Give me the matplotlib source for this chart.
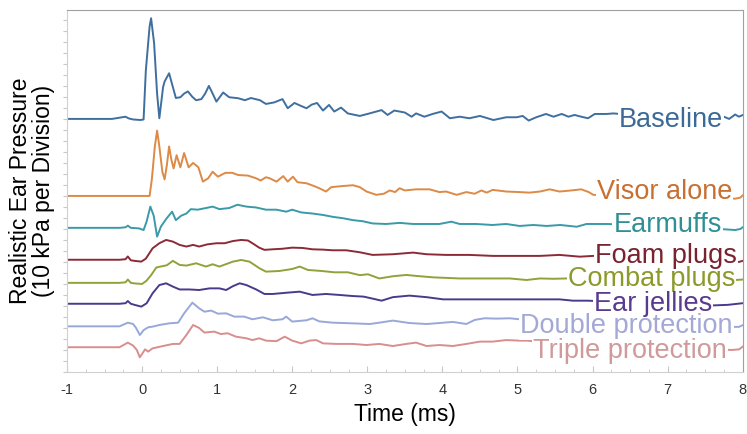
import numpy as np
import matplotlib
matplotlib.use("Agg")
import matplotlib.pyplot as plt
from matplotlib.patches import Rectangle

plt.rcParams['font.family'] = ['Liberation Sans', 'DejaVu Sans']
plt.rcParams['axes.unicode_minus'] = False

# time (ms) and ear pressure (divisions of 10 kPa, traces stacked as in the figure)
baseline_t = [-1.0, -0.4, -0.22, -0.18, -0.12, -0.02, 0.02, 0.05, 0.10, 0.12, 0.16, 0.20, 0.23,
              0.28, 0.30, 0.36, 0.41, 0.45, 0.51, 0.56, 0.61, 0.67, 0.72, 0.79, 0.84, 0.89, 0.94,
              0.99, 1.08, 1.16, 1.28, 1.37, 1.45, 1.57, 1.65, 1.76, 1.87, 1.94, 2.03, 2.11, 2.19,
              2.26, 2.33, 2.41, 2.49, 2.56, 2.65, 2.74, 2.90, 3.03, 3.19, 3.27, 3.36, 3.50, 3.59,
              3.65, 3.76, 3.87, 3.99, 4.10, 4.23, 4.36, 4.50, 4.68, 4.85, 4.99, 5.07, 5.15, 5.25,
              5.38, 5.48, 5.59, 5.68, 5.76, 5.85, 5.94, 6.03, 6.19, 6.28, 6.6, 7.0, 7.4, 7.75,
              7.82, 7.9, 7.95, 8.0]
baseline_v = [23.0, 23.0, 23.2, 23.05, 22.95, 22.9, 22.95, 27.4, 31.4, 32.15, 29.9, 25.3, 23.06,
              25.9, 26.4, 27.15, 25.9, 24.9, 24.97, 25.3, 25.5, 25.0, 24.7, 24.8, 25.3, 26.0, 25.3,
              24.57, 25.4, 24.97, 24.88, 24.7, 24.9, 24.7, 24.36, 24.5, 24.8, 23.97, 24.45, 24.2,
              23.97, 24.3, 24.45, 23.76, 24.27, 23.67, 24.03, 23.5, 23.27, 23.5, 23.8, 23.36,
              23.76, 23.58, 23.2, 23.5, 23.2, 23.45, 23.67, 23.06, 23.2, 23.06, 23.27, 22.9,
              23.15, 23.15, 23.27, 22.85, 23.15, 23.45, 23.2, 23.45, 23.2, 23.36, 23.2, 23.06,
              23.45, 23.45, 23.5, 23.3, 23.2, 23.3, 23.2, 23.0, 23.4, 23.2, 23.35]

visor_t = [-1.0, 0.10, 0.13, 0.17, 0.20, 0.23, 0.27, 0.30, 0.33, 0.36, 0.39, 0.42, 0.46, 0.51,
           0.56, 0.62, 0.68, 0.75, 0.81, 0.88, 0.94, 1.01, 1.11, 1.20, 1.28, 1.41, 1.52, 1.58,
           1.65, 1.70, 1.79, 1.88, 1.94, 2.01, 2.07, 2.19, 2.29, 2.36, 2.45, 2.52, 2.67, 2.81,
           2.90, 2.99, 3.12, 3.22, 3.30, 3.37, 3.43, 3.50, 3.65, 3.83, 3.96, 4.05, 4.19, 4.32,
           4.43, 4.52, 4.59, 4.67, 4.85, 5.03, 5.16, 5.30, 5.43, 5.56, 5.72, 5.85, 5.95, 6.01,
           6.5, 7.0, 7.5, 7.8, 7.9, 7.97, 8.0]
visor_v = [16.0, 16.0, 17.5, 20.5, 21.94, 20.5, 18.2, 17.5, 18.8, 20.5, 19.3, 18.5, 19.7, 18.6,
           19.9, 18.6, 19.0, 18.6, 17.3, 17.6, 18.2, 17.75, 18.1, 18.1, 17.9, 17.85, 17.6, 17.4,
           17.7, 17.6, 17.3, 17.8, 17.3, 17.75, 17.25, 17.15, 16.9, 16.7, 16.4, 16.8, 16.9,
           16.97, 16.8, 16.4, 16.1, 16.2, 16.5, 16.35, 16.7, 16.5, 16.6, 16.6, 16.35, 16.4,
           16.1, 16.35, 16.2, 16.5, 16.3, 16.55, 16.4, 16.35, 16.3, 16.4, 16.6, 16.4, 16.5,
           16.6, 16.35, 16.1, 16.0, 16.0, 15.9, 15.8, 15.75, 15.85, 16.05]

earmuffs_t = [-1.0, -0.3, -0.22, -0.19, -0.15, -0.04, 0.02, 0.06, 0.11, 0.155, 0.20, 0.25, 0.32,
              0.40, 0.45, 0.52, 0.59, 0.65, 0.74, 0.85, 0.94, 1.03, 1.16, 1.27, 1.39, 1.52,
              1.65, 1.79, 1.92, 2.0, 2.12, 2.27, 2.41, 2.54, 2.68, 2.81, 2.94, 3.07, 3.25, 3.43,
              3.61, 3.79, 3.96, 4.12, 4.23, 4.45, 4.67, 4.85, 5.03, 5.21, 5.39, 5.57, 5.79, 5.92,
              6.10, 6.21, 6.6, 7.0, 7.4, 7.8, 7.9, 7.97, 8.0]
earmuffs_v = [13.1, 13.1, 13.15, 13.3, 13.1, 13.05, 12.9, 13.66, 15.03, 14.2, 12.3, 13.2, 13.9,
              14.57, 13.8, 14.2, 14.4, 14.8, 14.75, 14.9, 15.03, 14.8, 14.9, 15.2, 15.03, 14.95,
              14.75, 14.75, 14.57, 14.75, 14.5, 14.4, 14.27, 14.1, 13.97, 13.8, 13.7, 13.5,
              13.45, 13.55, 13.45, 13.45, 13.45, 13.66, 13.45, 13.45, 13.36, 13.45, 13.27,
              13.36, 13.27, 13.36, 13.2, 13.45, 13.45, 13.45, 13.3, 13.2, 13.1, 12.95, 12.9,
              13.0, 13.15]

foam_t = [-1.0, -0.3, -0.22, -0.19, -0.15, -0.1, -0.01, 0.05, 0.14, 0.23, 0.32, 0.41, 0.50,
          0.59, 0.68, 0.76, 0.87, 0.99, 1.10, 1.21, 1.32, 1.41, 1.47, 1.56, 1.63, 1.74, 1.87,
          2.0, 2.14, 2.27, 2.41, 2.54, 2.72, 2.90, 3.07, 3.34, 3.61, 3.79, 4.05, 4.36, 4.67,
          4.99, 5.30, 5.56, 5.83, 6.01, 6.5, 7.0, 7.5, 7.85, 7.95, 8.0]
foam_v = [10.2, 10.2, 10.25, 10.5, 10.15, 10.1, 10.03, 10.3, 11.24, 11.7, 12.0, 11.85, 11.55,
          11.4, 11.55, 11.4, 11.6, 11.7, 11.7, 11.9, 12.0, 11.95, 11.7, 11.3, 11.1, 11.15,
          11.2, 11.3, 11.27, 11.15, 11.12, 11.06, 11.06, 10.88, 10.64, 10.7, 10.85, 10.7,
          10.64, 10.64, 10.55, 10.55, 10.55, 10.64, 10.48, 10.55, 10.4, 10.3, 10.2, 10.05,
          10.0, 10.1]

combat_t = [-1.0, -0.3, -0.22, -0.19, -0.15, -0.1, 0.0, 0.06, 0.12, 0.19, 0.26, 0.33, 0.41,
            0.50, 0.59, 0.72, 0.85, 0.94, 1.03, 1.21, 1.32, 1.43, 1.57, 1.65, 1.83, 2.0, 2.1,
            2.21, 2.39, 2.56, 2.74, 2.9, 3.01, 3.16, 3.34, 3.52, 3.65, 3.88, 4.23, 4.59, 4.9,
            5.12, 5.3, 5.48, 5.65, 6.2, 6.8, 7.4, 7.9, 8.0]
combat_v = [8.1, 8.1, 8.15, 8.4, 8.1, 8.05, 8.0, 8.3, 8.8, 9.5, 9.6, 9.7, 10.1, 9.73, 9.67,
            9.88, 9.58, 9.79, 9.58, 10.03, 10.18, 10.03, 9.4, 9.12, 9.18, 9.36, 9.58, 9.27,
            9.18, 9.06, 9.06, 8.8, 8.88, 8.5, 8.7, 8.82, 8.73, 8.6, 8.5, 8.5, 8.5, 8.36, 8.5,
            8.47, 8.5, 8.45, 8.4, 8.4, 8.36, 8.4]

jellies_t = [-1.0, -0.3, -0.22, -0.19, -0.15, -0.1, -0.01, 0.06, 0.14, 0.23, 0.32, 0.41, 0.50,
             0.63, 0.76, 0.90, 1.03, 1.12, 1.21, 1.30, 1.39, 1.52, 1.63, 1.74, 1.92, 2.10,
             2.27, 2.45, 2.63, 2.81, 2.95, 3.05, 3.19, 3.34, 3.56, 3.79, 4.01, 4.32, 4.67,
             4.99, 5.3, 5.56, 5.74, 5.94, 6.5, 7.0, 7.6, 7.8, 8.0]
jellies_v = [6.2, 6.2, 6.25, 6.45, 6.2, 6.1, 5.94, 6.24, 7.15, 7.9, 8.06, 7.76, 7.5, 7.5, 7.45,
             7.6, 7.6, 7.45, 7.8, 8.06, 7.9, 7.5, 7.09, 7.09, 7.2, 7.3, 7.0, 7.09, 7.0, 6.9,
             6.85, 6.7, 6.48, 6.8, 6.94, 6.8, 6.6, 6.6, 6.6, 6.6, 6.6, 6.6, 6.48, 6.48, 6.3,
             6.2, 6.05, 6.1, 6.25]

double_t = [-1.0, -0.3, -0.19, -0.12, -0.08, -0.03, 0.02, 0.08, 0.14, 0.23, 0.36, 0.48, 0.56,
            0.67, 0.76, 0.83, 0.92, 1.01, 1.12, 1.23, 1.36, 1.47, 1.61, 1.74, 1.87, 1.92, 2.0,
            2.19, 2.27, 2.36, 2.54, 2.81, 3.03, 3.16, 3.34, 3.56, 3.79, 3.96, 4.14, 4.32, 4.43,
            4.56, 4.72, 4.9, 5.3, 6.0, 7.0, 7.8, 7.95, 8.0]
double_v = [4.15, 4.15, 4.48, 4.36, 4.0, 3.36, 3.8, 4.06, 4.12, 4.27, 4.42, 4.48, 5.33, 6.3,
            5.79, 5.48, 5.58, 5.3, 5.33, 5.03, 5.03, 4.79, 4.97, 4.7, 4.79, 5.03, 4.58, 4.7,
            4.88, 4.6, 4.48, 4.42, 4.36, 4.48, 4.67, 4.45, 4.36, 4.45, 4.55, 4.36, 4.73, 4.88,
            4.85, 4.88, 4.6, 4.4, 4.2, 4.1, 4.1, 4.25]

triple_t = [-1.0, -0.3, -0.19, -0.12, -0.07, -0.03, 0.04, 0.08, 0.14, 0.28, 0.41, 0.50, 0.59,
            0.68, 0.76, 0.83, 0.96, 1.05, 1.14, 1.25, 1.39, 1.47, 1.56, 1.65, 1.79, 1.90, 2.0,
            2.12, 2.23, 2.32, 2.41, 2.59, 2.81, 2.99, 3.16, 3.34, 3.52, 3.65, 3.79, 3.96, 4.14,
            4.32, 4.5, 4.67, 4.85, 5.03, 5.12, 5.6, 6.5, 7.5, 7.85, 7.95, 8.0]
triple_v = [2.25, 2.25, 2.67, 2.4, 2.0, 1.33, 2.06, 1.85, 2.15, 2.36, 2.55, 2.55, 3.36, 4.27,
            4.0, 3.58, 3.67, 3.45, 3.52, 3.21, 3.06, 2.9, 3.06, 2.85, 2.8, 3.21, 2.85, 2.6,
            2.85, 2.9, 2.6, 2.55, 2.55, 2.45, 2.55, 2.36, 2.55, 2.67, 2.36, 2.45, 2.36, 2.55,
            2.76, 2.76, 2.9, 2.85, 2.85, 2.6, 2.3, 2.1, 2.0, 2.05, 2.3]

labels = ["Baseline", "Visor alone", "Earmuffs", "Foam plugs", "Combat plugs",
          "Ear jellies", "Double protection", "Triple protection"]
series = [(baseline_t, baseline_v), (visor_t, visor_v), (earmuffs_t, earmuffs_v),
          (foam_t, foam_v), (combat_t, combat_v), (jellies_t, jellies_v),
          (double_t, double_v), (triple_t, triple_v)]

line_colors = ['#3f6f9f', '#dc8a45', '#3a9aa8', '#8b2b38', '#8fa33a', '#4b3a8c',
               '#98a8d8', '#d98e8e']
text_colors = ['#3b6a96', '#c86f32', '#2f8f93', '#7a2330', '#8c9a2c', '#5a3a8f',
               '#a3a8d6', '#d09a9a']
# label anchor: right edge (ms) and text baseline (divisions)
label_x = [7.74, 7.86, 7.72, 7.92, 7.90, 7.59, 7.87, 7.79]
label_y = [22.3, 15.7, 12.75, 9.88, 7.82, 5.55, 3.58, 1.24]

fig = plt.figure(figsize=(7.47, 4.34), dpi=100)
ax = fig.add_axes([0.0897, 0.1429, 0.9045, 0.8341])

for (t, v), c in zip(series, line_colors):
    ax.plot(t, v, color=c, linewidth=1.4, zorder=2)

texts = []
for name, x, y, c in zip(labels, label_x, label_y, text_colors):
    texts.append(ax.text(x, y, name, color=c, fontsize=19.5, ha='right',
                         va='baseline', zorder=4))

ax.set_xlim(-1, 8)
ax.set_ylim(0, 32.9)
ax.set_xticks(np.arange(-1, 9, 1))
ax.set_xticks(np.arange(-1, 8.01, 0.25), minor=True)
ax.set_yticks(np.arange(0, 33, 1))
ax.set_yticklabels([])
ax.tick_params(axis='x', which='major', direction='in', length=4, color='#c8c8c8',
               labelsize=10.5, labelcolor='#333333', pad=8)
ax.tick_params(axis='x', which='minor', direction='in', length=2.5, color='#c8c8c8')
ax.tick_params(axis='y', direction='out', length=3, color='#c8c8c8')
for side in ['left', 'bottom']:
    ax.spines[side].set_color('#d0d0d0')
for side in ['top', 'right']:
    ax.spines[side].set_color('#a0a0a0')

ax.set_xlabel('Time (ms)', fontsize=16.5, labelpad=4)
ax.set_ylabel('Realistic Ear Pressure\n(10 kPa per Division)', fontsize=16.5,
              linespacing=1.0, labelpad=2)

# white boxes behind the labels hide the traces there (glyphs stay on top)
fig.canvas.draw()
renderer = fig.canvas.get_renderer()
inv = ax.transData.inverted()
for txt in texts:
    bb = txt.get_window_extent(renderer).padded(1).transformed(inv)
    ax.add_patch(Rectangle((bb.x0, bb.y0), bb.width, bb.height, facecolor='white',
                           edgecolor='none', zorder=3))

fig.savefig('out.png', dpi=100)
